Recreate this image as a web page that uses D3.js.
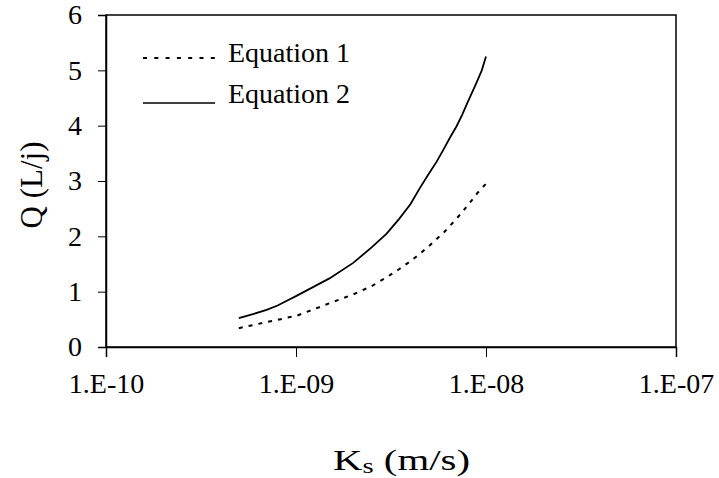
<!DOCTYPE html>
<html>
<head>
<meta charset="utf-8">
<script src="https://cdn.jsdelivr.net/npm/d3@7"></script>
<style>
  body { margin: 0; background: #fff; }
  text { font-family: "Liberation Serif", "DejaVu Serif", serif; fill: #000; }
</style>
</head>
<body>
<div id="chart"></div>
<script>
// values
var ks = [5e-10, 6e-10, 7e-10, 8e-10, 9e-10, 1e-9, 1.5e-9, 2e-9, 2.5e-9, 3e-9, 3.5e-9, 4e-9,
          4.5e-9, 5e-9, 5.5e-9, 6e-9, 6.5e-9, 7e-9, 7.5e-9, 8e-9, 8.5e-9, 9e-9, 9.5e-9, 1e-8];
var eq1 = [0.34, 0.40, 0.45, 0.49, 0.53, 0.56, 0.79, 0.95, 1.10, 1.26, 1.41, 1.55,
           1.69, 1.82, 1.95, 2.07, 2.20, 2.32, 2.44, 2.56, 2.67, 2.78, 2.87, 2.95];
var eq2 = [0.52, 0.60, 0.67, 0.75, 0.84, 0.92, 1.24, 1.52, 1.80, 2.05, 2.32, 2.58,
           2.88, 3.13, 3.35, 3.58, 3.80, 3.99, 4.20, 4.42, 4.62, 4.81, 5.00, 5.25];
var seriesNames = ["Equation 1", "Equation 2"];
var xTicks = [1e-10, 1e-9, 1e-8, 1e-7];
var xTickLabels = ["1.E-10", "1.E-09", "1.E-08", "1.E-07"];
var yTicks = [0, 1, 2, 3, 4, 5, 6];

function main() {
    var width = 719, height = 478;
    var left = 106, right = 676, top = 15, bottom = 347;

    var svg = d3.select("#chart").append("svg")
        .attr("width", width).attr("height", height);

    var x = d3.scaleLog().domain([1e-10, 1e-7]).range([left, right]);
    var y = d3.scaleLinear().domain([0, 6]).range([bottom, top]);

    // frame
    svg.append("rect").attr("x", left).attr("y", top)
        .attr("width", right - left).attr("height", bottom - top)
        .attr("fill", "none").attr("stroke", "#000").attr("stroke-width", 1.5);

    var xAxis = svg.append("g").attr("transform", "translate(0," + bottom + ")")
        .call(d3.axisBottom(x).tickValues(xTicks).tickSize(10).tickPadding(16)
              .tickFormat(function(d, i) { return xTickLabels[i]; }));
    var yAxis = svg.append("g").attr("transform", "translate(" + left + ",0)")
        .call(d3.axisLeft(y).tickValues(yTicks).tickSize(8).tickPadding(16)
              .tickFormat(d3.format("d")));

    [xAxis, yAxis].forEach(function(a) {
        a.attr("font-family", null).attr("font-size", null);
        a.select(".domain").attr("stroke", "#000").attr("stroke-width", 1.5);
        a.selectAll(".tick line").attr("stroke", "#000").attr("stroke-width", 1);
        a.selectAll(".tick text").style("font-size", "28px").attr("fill", "#000");
    });

    var line = d3.line()
        .x(function(d) { return x(d[0]); })
        .y(function(d) { return y(d[1]); });

    var data1 = ks.map(function(k, i) { return [k, eq1[i]]; });
    var data2 = ks.map(function(k, i) { return [k, eq2[i]]; });

    svg.append("path").datum(data1).attr("d", line).attr("fill", "none")
        .attr("stroke", "#000").attr("stroke-width", 2).attr("stroke-dasharray", "4,6");
    svg.append("path").datum(data2).attr("d", line).attr("fill", "none")
        .attr("stroke", "#000").attr("stroke-width", 1.8);

    // legend
    var legendY = [58, 103];
    var legend = svg.append("g").selectAll("g").data(seriesNames).enter().append("g")
        .attr("transform", function(d, i) { return "translate(143," + legendY[i] + ")"; });
    legend.append("line").attr("x1", 0).attr("x2", 72).attr("y1", 0).attr("y2", 0)
        .attr("stroke", "#000")
        .attr("stroke-width", function(d, i) { return i == 0 ? 2 : 1.5; })
        .attr("stroke-dasharray", function(d, i) { return i == 0 ? "4,7.3" : null; });
    legend.append("text").attr("x", 85).attr("y", function(d, i) { return i == 0 ? 4 : 0; })
        .style("font-size", "28px")
        .text(function(d) { return d; });

    // axis titles
    var xt = svg.append("text").attr("x", 333).attr("y", 470)
        .attr("textLength", 137).attr("lengthAdjust", "spacingAndGlyphs")
        .style("font-size", "30px");
    xt.append("tspan").text("K");
    xt.append("tspan").attr("dy", 3).style("font-size", "21px").text("s");
    xt.append("tspan").attr("dy", -3).text(" (m/s)");

    svg.append("text").attr("transform", "translate(42,185) rotate(-90)")
        .attr("text-anchor", "middle").style("font-size", "31px").text("Q (L/j)");
}
main();
</script>
</body>
</html>
